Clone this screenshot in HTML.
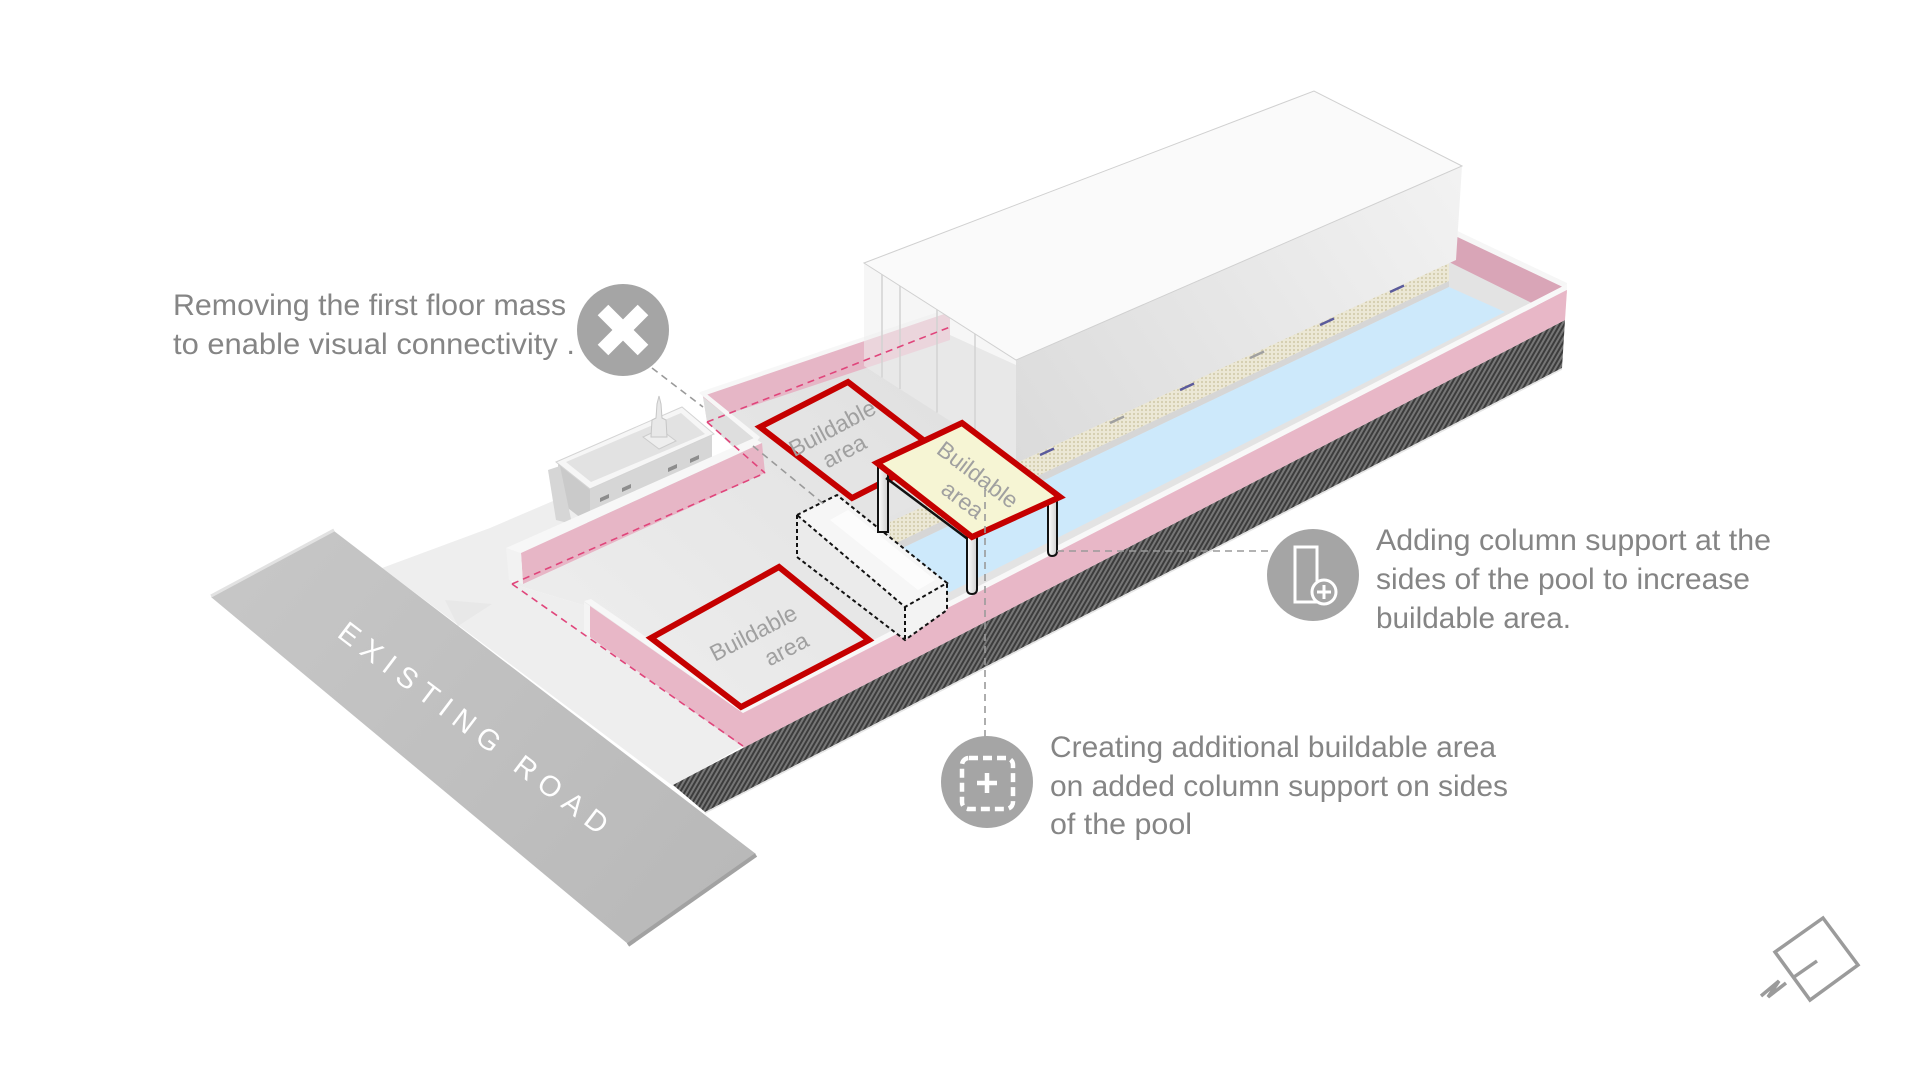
<!DOCTYPE html>
<html>
<head>
<meta charset="utf-8">
<style>
html,body{margin:0;padding:0;background:#ffffff;}
svg{display:block;}
.ann{font-family:"Liberation Sans","DejaVu Sans",sans-serif;font-size:30px;fill:#858585;}
.lbl{font-family:"Liberation Sans","DejaVu Sans",sans-serif;font-size:23px;fill:#a0a0a0;}
</style>
</head>
<body>
<svg width="1920" height="1080" viewBox="0 0 1920 1080" xmlns="http://www.w3.org/2000/svg">
<defs>
  <pattern id="hatch" width="4" height="4" patternUnits="userSpaceOnUse" patternTransform="rotate(-60)">
    <rect width="4" height="4" fill="#767676"/>
    <rect width="4" height="2" fill="#3c3c3c"/>
  </pattern>
  <pattern id="dots" width="4" height="4" patternUnits="userSpaceOnUse">
    <rect width="4" height="4" fill="#ece8d6"/>
    <circle cx="2" cy="2" r="1.1" fill="#d4cdae"/>
  </pattern>
  <linearGradient id="deckg" x1="900" y1="380" x2="600" y2="720" gradientUnits="userSpaceOnUse">
    <stop offset="0" stop-color="#e1e1e1"/>
    <stop offset="1" stop-color="#eeeeee"/>
  </linearGradient>
  <linearGradient id="roadg" x1="250" y1="560" x2="700" y2="920" gradientUnits="userSpaceOnUse">
    <stop offset="0" stop-color="#c6c6c6"/>
    <stop offset="1" stop-color="#b9b9b9"/>
  </linearGradient>
  <linearGradient id="bface" x1="1460" y1="170" x2="1016" y2="460" gradientUnits="userSpaceOnUse">
    <stop offset="0" stop-color="#f2f2f2"/>
    <stop offset="1" stop-color="#dbdbdb"/>
  </linearGradient>
  <linearGradient id="colg" x1="0" y1="0" x2="1" y2="0">
    <stop offset="0" stop-color="#ffffff"/>
    <stop offset="1" stop-color="#cfcfcf"/>
  </linearGradient>
</defs>

<rect width="1920" height="1080" fill="#ffffff"/>

<!-- ground outside platform -->
<polygon points="382,568 490,528 560,498 590,520 508,550 512,584 590,607 743,746 673,786" fill="#eeeeee"/>
<polygon points="445,600 492,604 458,626" fill="#e8e8e8"/>

<!-- main deck -->
<polygon points="508,584 765,473 707,420 950,335 1016,365 1016,463 890,522 890,560 950,600 743,713 590,607 512,584" fill="url(#deckg)"/>

<!-- hatched base -->
<polygon points="673,785 743,748 1565,320 1562,368 705,812" fill="url(#hatch)"/>
<line x1="705" y1="813" x2="1562" y2="369" stroke="#e6e6e6" stroke-width="1.5"/>

<!-- temple -->
<polygon points="558,462 590,488 590,525 560,502" fill="#cacaca"/>
<polygon points="548,470 560,466 572,524 556,520" fill="#d6d6d6"/>
<polygon points="590,488 712,435 712,470 590,525" fill="#d6d6d6"/>
<g fill="#8d8d8d">
  <polygon points="600,498 609,494 609,498 600,502"/>
  <polygon points="622,488 631,484 631,488 622,492"/>
  <polygon points="668,468 677,464 677,468 668,472"/>
  <polygon points="690,459 699,455 699,459 690,463"/>
</g>
<polygon points="556,462 682,407 714,434 590,489" fill="#f6f6f6" stroke="#d4d4d4" stroke-width="1"/>
<polygon points="566,462 681,413 705,434 591,482" fill="#e2e2e2"/>
<polygon points="643,437 660,429 676,441 659,449" fill="#eeeeee" stroke="#cccccc" stroke-width="1"/>
<polygon points="651,437 652,420 656,418 657,404 659,396 661,404 662,418 666,420 667,437" fill="#e8e8e8" stroke="#c6c6c6" stroke-width="1"/>

<!-- wall A (back) -->
<polygon points="700,392 950,308 950,313 703,397" fill="#f7f7f7"/>
<polygon points="703,396 950,312 950,340 707,421" fill="#e6b6c6"/>
<!-- wall B face -->
<polygon points="703,397 757,440 757,470 707,422" fill="#dedede"/>
<polygon points="699,393 703,391 760,437 757,441" fill="#f7f7f7"/>

<!-- right deck base, far end -->
<polygon points="880,521 1456,259 1565,300 1567,292 950,605 880,565" fill="#e3e3e3"/>
<polygon points="1449,232 1567,288 1562,318 1449,262" fill="#d9a5b7"/>
<polygon points="1449,227 1567,283 1567,289 1449,233" fill="#f6f6f6"/>

<!-- seating strip, coping, pool -->
<polygon points="890,522 1449,262 1449,281 890,546" fill="url(#dots)"/>
<polygon points="890,546 1449,281 1449,287 890,554" fill="#d6d6d6"/>
<polygon points="890,554 1449,287 1505,312 950,592 905,590" fill="#cde9fb"/>
<g stroke-width="2.5">
  <line x1="1040" y1="455" x2="1054" y2="448.5" stroke="#5b5b9c"/>
  <line x1="1110" y1="423" x2="1124" y2="416.5" stroke="#a0a0a0"/>
  <line x1="1180" y1="390" x2="1194" y2="383.5" stroke="#5b5b9c"/>
  <line x1="1250" y1="358" x2="1264" y2="351.5" stroke="#a0a0a0"/>
  <line x1="1320" y1="325" x2="1334" y2="318.5" stroke="#5b5b9c"/>
  <line x1="1390" y1="292" x2="1404" y2="285.5" stroke="#5b5b9c"/>
</g>

<!-- building -->
<polygon points="864,263 1016,360 1016,463 864,366" fill="#eeeeee" fill-opacity="0.55"/>
<g stroke="#d2d2d2" stroke-width="1.5">
  <line x1="882" y1="274.5" x2="882" y2="377.5"/>
  <line x1="900" y1="286" x2="900" y2="389"/>
  <line x1="937" y1="309.6" x2="937" y2="412.6"/>
  <line x1="975" y1="333.8" x2="975" y2="436.8"/>
</g>
<polygon points="1016,360 1462,166 1456,260 1016,463" fill="url(#bface)"/>
<polygon points="864,263 1314,91 1462,166 1016,360" fill="#fafafa" stroke="#d0d0d0" stroke-width="1"/>

<!-- front long wall -->
<polygon points="743,707 1567,284 1567,290 743,713" fill="#f8f8f8"/>
<polygon points="743,713 1567,290 1565,320 743,748" fill="#e8b7c7"/>

<!-- wall C -->
<polygon points="506,548 754,438 762,443 521,553" fill="#f7f7f7"/>
<polygon points="521,553 762,443 765,473 523,584" fill="#e7b6c6"/>
<polygon points="506,548 521,553 523,584 509,580" fill="#f2f2f2"/>

<!-- L wall near road -->
<polygon points="590,606 743,713 743,747 590,637" fill="#e8b7c7"/>
<polygon points="584,601 591,599 749,708 743,713" fill="#f7f7f7"/>
<polygon points="584,602 590,606 590,637 584,633" fill="#f4f4f4"/>

<!-- dashed pink lines -->
<g stroke="#e0457b" stroke-width="1.6" stroke-dasharray="7 5" fill="none">
  <line x1="512" y1="584" x2="765" y2="473"/>
  <line x1="512" y1="584" x2="743" y2="746"/>
  <line x1="707" y1="422" x2="765" y2="473"/>
  <line x1="707" y1="422" x2="950" y2="327"/>
</g>

<!-- red buildable rect 1 -->
<polygon points="760,427 848,382 940,453 852,498" fill="none" stroke="#c50000" stroke-width="6"/>
<text class="lbl" transform="translate(836,435) rotate(-28)" text-anchor="middle">Buildable</text>
<text class="lbl" transform="translate(848,458) rotate(-28)" text-anchor="middle">area</text>

<!-- red buildable rect 2 -->
<polygon points="651,638 779,567 869,640 741,707" fill="none" stroke="#c50000" stroke-width="6"/>
<text class="lbl" transform="translate(757,640) rotate(-27.5)" text-anchor="middle">Buildable</text>
<text class="lbl" transform="translate(790,656) rotate(-27.5)" text-anchor="middle">area</text>

<!-- dashed removed mass box -->
<polygon points="797,515 905,607 905,640 797,557" fill="#ebebeb"/>
<polygon points="905,607 947,583 947,610 905,640" fill="#f3f3f3"/>
<polygon points="797,515 837,495 947,583 905,607" fill="#f6f6f6"/>
<polygon points="830,520 848,510 935,580 918,590" fill="#fcfcfc"/>
<g stroke="#111111" stroke-width="2" stroke-dasharray="4 3" fill="none">
  <polygon points="797,515 837,495 947,583 905,607"/>
  <polyline points="797,515 797,557 905,640 947,610 947,583"/>
  <line x1="905" y1="607" x2="905" y2="640"/>
</g>

<!-- yellow roof with columns -->
<rect x="878" y="465" width="10" height="67" fill="url(#colg)" stroke="#111" stroke-width="2"/>
<line x1="886" y1="478" x2="969" y2="540" stroke="#111" stroke-width="2.5"/>
<path d="M967,537 L977,537 L977,589 Q977,594 972,594 Q967,594 967,589 Z" fill="url(#colg)" stroke="#111" stroke-width="2"/>
<path d="M1048,498 L1057,498 L1057,551 Q1057,556 1052,556 Q1048,556 1048,551 Z" fill="url(#colg)" stroke="#111" stroke-width="2"/>
<polygon points="877,463 962,423 1060,497 972,537" fill="#f6f5d4" stroke="#c50000" stroke-width="6"/>
<text class="lbl" transform="translate(973,481) rotate(37)" text-anchor="middle">Buildable</text>
<text class="lbl" transform="translate(958,506) rotate(37)" text-anchor="middle">area</text>

<!-- road -->
<polygon points="211,597 334,531 756,854 628,944" fill="url(#roadg)"/>
<line x1="211" y1="596" x2="334" y2="530" stroke="#e2e2e2" stroke-width="3"/>
<line x1="756" y1="855" x2="628" y2="945" stroke="#a2a2a2" stroke-width="4"/>
<text transform="translate(336,636) rotate(37.2)" font-family="Liberation Sans, DejaVu Sans, sans-serif" font-size="29" fill="#ffffff" textLength="330">EXISTING ROAD</text>

<!-- callout connectors -->
<g stroke="#9a9a9a" stroke-width="1.6" stroke-dasharray="7 5" fill="none">
  <line x1="652" y1="368" x2="703" y2="407"/>
  <line x1="753" y1="446" x2="825" y2="505"/>
  <line x1="985" y1="490" x2="985" y2="737"/>
  <line x1="1057" y1="551" x2="1268" y2="551"/>
</g>

<!-- callout 1 -->
<circle cx="623" cy="330" r="46" fill="#a5a5a5"/>
<g stroke="#ffffff" stroke-width="15">
  <line x1="603" y1="310" x2="643" y2="350"/>
  <line x1="643" y1="310" x2="603" y2="350"/>
</g>
<text class="ann" x="173" y="315" textLength="393" lengthAdjust="spacingAndGlyphs">Removing the first floor mass</text>
<text class="ann" x="173" y="354" textLength="402" lengthAdjust="spacingAndGlyphs">to enable visual connectivity .</text>

<!-- callout 2 -->
<circle cx="1313" cy="575" r="46" fill="#a5a5a5"/>
<rect x="1295" y="547" width="22" height="55" fill="none" stroke="#ffffff" stroke-width="3"/>
<circle cx="1324" cy="592" r="12" fill="#a5a5a5" stroke="#ffffff" stroke-width="3"/>
<g stroke="#ffffff" stroke-width="3">
  <line x1="1317" y1="592" x2="1331" y2="592"/>
  <line x1="1324" y1="585" x2="1324" y2="599"/>
</g>
<text class="ann" x="1376" y="550" textLength="395" lengthAdjust="spacingAndGlyphs">Adding column support at the</text>
<text class="ann" x="1376" y="589" textLength="374" lengthAdjust="spacingAndGlyphs">sides of the pool to increase</text>
<text class="ann" x="1376" y="628" textLength="195" lengthAdjust="spacingAndGlyphs">buildable area.</text>

<!-- callout 3 -->
<circle cx="987" cy="782" r="46" fill="#a5a5a5"/>
<rect x="962" y="758" width="51" height="51" rx="7" fill="none" stroke="#ffffff" stroke-width="4.5" stroke-dasharray="9 5"/>
<g stroke="#ffffff" stroke-width="4.5">
  <line x1="977" y1="783" x2="997" y2="783"/>
  <line x1="987" y1="773" x2="987" y2="793"/>
</g>
<text class="ann" x="1050" y="757" textLength="446" lengthAdjust="spacingAndGlyphs">Creating additional buildable area</text>
<text class="ann" x="1050" y="796" textLength="458" lengthAdjust="spacingAndGlyphs">on added column support on sides</text>
<text class="ann" x="1050" y="834" textLength="142" lengthAdjust="spacingAndGlyphs">of the pool</text>

<!-- north compass -->
<g stroke="#9b9b9b" stroke-width="3.5" fill="none" stroke-linejoin="miter">
  <polygon points="1775,952 1823,918 1858,965 1810,1000"/>
  <line x1="1794" y1="977" x2="1817" y2="961"/>
  <polyline points="1761,996 1779,981 1768,997 1786,983"/>
</g>
</svg>
</body>
</html>
